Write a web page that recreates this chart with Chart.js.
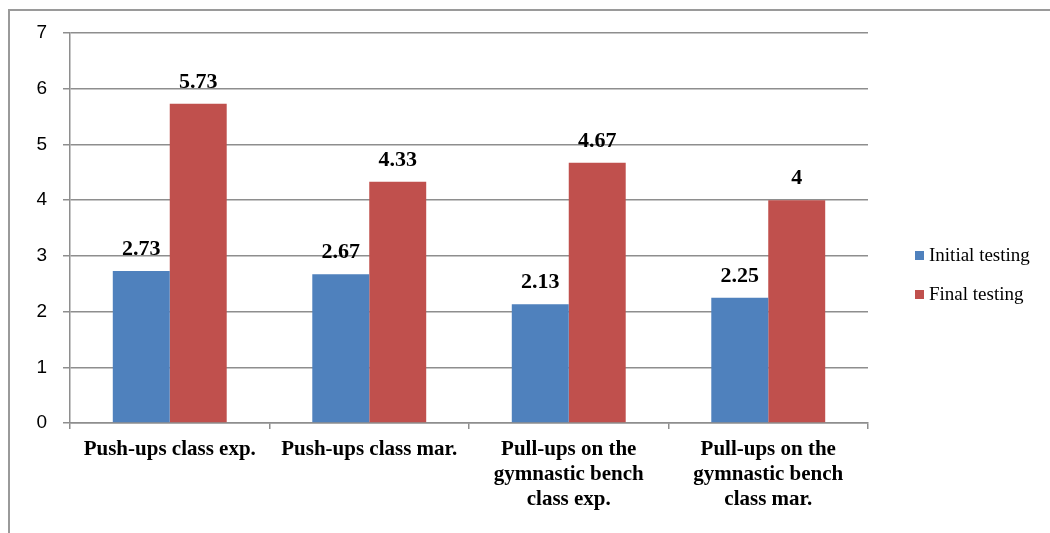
<!DOCTYPE html>
<html>
<head>
<meta charset="utf-8">
<script src="https://cdn.jsdelivr.net/npm/chart.js@4/dist/chart.umd.min.js"></script>
<style>
  html, body { margin: 0; padding: 0; background: #fff; }
  #wrap { position: relative; width: 1050px; height: 533px; overflow: hidden; }
  #frame { position: absolute; left: 8px; top: 9px; width: 1100px; height: 600px;
           border: 2px solid #9a9a9a; box-sizing: border-box; pointer-events: none; }
  canvas { position: absolute; left: 0; top: 0; }
</style>
</head>
<body>
<div id="wrap">
  <canvas id="c" width="1050" height="533"></canvas>
  <div id="frame"></div>
</div>
<script>
// Test categories (multi-line labels)
const categories = [
  ['Push-ups class exp.'],
  ['Push-ups class mar.'],
  ['Pull-ups on the', 'gymnastic bench', 'class exp.'],
  ['Pull-ups on the', 'gymnastic bench', 'class mar.']
];
const seriesNames = ['Initial testing', 'Final testing'];
const initialTesting = [2.73, 2.67, 2.13, 2.25];
const finalTesting = [5.73, 4.33, 4.67, 4];
const yTicks = [0, 1, 2, 3, 4, 5, 6, 7];

const colors = ['#4F81BD', '#C0504D'];
const gridColor = '#8e8e8e';
const serif = '"Liberation Serif", "Times New Roman", serif';

// Value labels above each bar
const valueLabels = {
  id: 'valueLabels',
  afterDatasetsDraw(chart) {
    const ctx = chart.ctx;
    ctx.save();
    ctx.font = 'bold 22px ' + serif;
    ctx.fillStyle = '#000';
    ctx.textAlign = 'center';
    ctx.textBaseline = 'alphabetic';
    chart.data.datasets.forEach((ds, i) => {
      chart.getDatasetMeta(i).data.forEach((el, j) => {
        ctx.fillText(String(ds.data[j]), el.x, el.y - 16);
      });
    });
    ctx.restore();
  }
};

// Legend on the right side
const sideLegend = {
  id: 'sideLegend',
  afterDraw(chart) {
    const ctx = chart.ctx;
    ctx.save();
    ctx.font = '19px ' + serif;
    ctx.textAlign = 'left';
    ctx.textBaseline = 'middle';
    const rows = [255.5, 294.5];
    chart.data.datasets.forEach((ds, i) => {
      ctx.fillStyle = ds.backgroundColor;
      ctx.fillRect(915, rows[i] - 4.5, 9, 9);
      ctx.fillStyle = '#000';
      ctx.fillText(ds.label, 929, rows[i] + 1);
    });
    ctx.restore();
  }
};

new Chart(document.getElementById('c'), {
  type: 'bar',
  data: {
    labels: categories,
    datasets: [
      { label: seriesNames[0], data: initialTesting, backgroundColor: colors[0] },
      { label: seriesNames[1], data: finalTesting, backgroundColor: colors[1] }
    ]
  },
  options: {
    responsive: false,
    animation: false,
    devicePixelRatio: 1,
    layout: { padding: { top: 33, right: 182, left: 0, bottom: 0 } },
    datasets: { bar: { categoryPercentage: 0.571, barPercentage: 1 } },
    plugins: { legend: { display: false }, tooltip: { enabled: false } },
    scales: {
      x: {
        grid: { offset: true, drawOnChartArea: false, drawTicks: true, tickLength: 6,
                color: gridColor, lineWidth: 1.5 },
        border: { color: gridColor, width: 1.5 },
        ticks: {
          color: '#000', padding: 8, maxRotation: 0, autoSkip: false,
          font: { family: serif, size: 21, weight: 'bold', lineHeight: '25px' }
        },
        afterFit(scale) { scale.height = 110; }
      },
      y: {
        min: yTicks[0], max: yTicks[yTicks.length - 1],
        grid: { color: gridColor, lineWidth: 1.5, tickLength: 7 },
        border: { color: gridColor, width: 1.5 },
        ticks: {
          stepSize: 1, color: '#000', padding: 16,
          font: { family: '"Liberation Sans", Arial, sans-serif', size: 19 }
        },
        afterFit(scale) { scale.width = 70; }
      }
    }
  },
  plugins: [valueLabels, sideLegend]
});
</script>
</body>
</html>
